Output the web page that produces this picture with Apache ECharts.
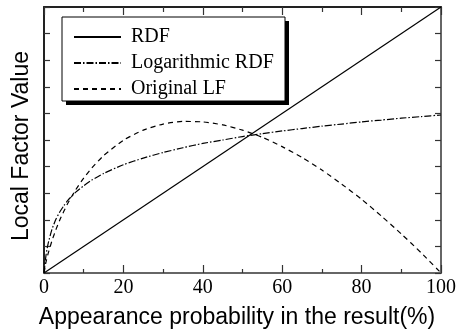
<!DOCTYPE html>
<html>
<head>
<meta charset="utf-8">
<script src="https://cdn.jsdelivr.net/npm/echarts@6/dist/echarts.min.js"></script>
<style>html,body{margin:0;padding:0;background:#fff}#c{width:467px;height:334px}</style>
</head>
<body>
<div id="c"></div>
<script>
// probability (%) sample points
var xPts = [0, 0.5, 1, 2, 3, 4, 5, 6, 8, 10, 12, 15, 20, 25, 30, 35, 40, 45, 50, 55, 60, 65, 70, 75, 80, 85, 90, 95, 100];
// Logarithmic RDF
var logRdf = [0, 0.066, 0.108, 0.164, 0.202, 0.230, 0.253, 0.273, 0.304, 0.328, 0.349, 0.374, 0.407, 0.432, 0.453, 0.471, 0.487, 0.500, 0.513, 0.524, 0.534, 0.543, 0.552, 0.560, 0.568, 0.575, 0.582, 0.588, 0.594];
// Original LF
var origLf = [0, 0.041, 0.071, 0.121, 0.163, 0.200, 0.232, 0.262, 0.313, 0.357, 0.394, 0.441, 0.499, 0.537, 0.560, 0.570, 0.568, 0.557, 0.537, 0.510, 0.475, 0.434, 0.387, 0.334, 0.277, 0.214, 0.147, 0.076, 0];
// RDF straight line
var rdfX = [0, 100];
var rdfY = [0, 1];
var xTicks = [0, 20, 40, 60, 80, 100];
var seriesNames = ['RDF', 'Logarithmic RDF', 'Original LF'];

function pairs(xs, ys) { return xs.map(function (x, i) { return [x, ys[i]]; }); }

var chart = echarts.init(document.getElementById('c'), null, { renderer: 'canvas' });
var G = { left: 44, right: 26, top: 7, bottom: 61 };
var serif = 'Liberation Serif';

function tick(len) { return { show: true, inside: true, length: len, lineStyle: { color: '#333', width: 1.2 } }; }
function minor(len) { return { show: true, splitNumber: 2, length: len, lineStyle: { color: '#333', width: 1.2 } }; }

chart.setOption({
  animation: false,
  backgroundColor: '#fff',
  grid: G,
  legend: {
    orient: 'vertical',
    left: 68, top: 22,
    itemWidth: 47, itemHeight: 14, itemGap: 6,
    data: seriesNames,
    itemStyle: { color: 'rgba(0,0,0,0)', borderWidth: 0, opacity: 0 },
    textStyle: { fontFamily: serif, fontSize: 20, color: '#000', padding: [0, 0, 0, 5] },
    z: 10
  },
  graphic: [
    { type: 'rect', shape: { x: 66, y: 21, width: 223, height: 84 }, style: { fill: '#000' }, z: 1 },
    { type: 'rect', shape: { x: 62, y: 17, width: 223, height: 84 }, style: { fill: '#fff', stroke: '#000', lineWidth: 1 }, z: 2 },
    { type: 'text', x: 237, y: 318, style: { text: 'Appearance probability in the result(%)', font: '23px "Liberation Sans"', fill: '#000', textAlign: 'center', textVerticalAlign: 'middle' }, z: 5 },
    { type: 'text', x: 22, y: 146, rotation: Math.PI / 2, style: { text: 'Local Factor Value', font: '23px "Liberation Sans"', fill: '#000', textAlign: 'center', textVerticalAlign: 'middle' }, z: 5 }
  ],
  xAxis: [
    {
      type: 'value', min: 0, max: 100, interval: 20, position: 'bottom',
      axisLine: { show: true, onZero: false, lineStyle: { color: '#666', width: 2 } },
      axisTick: tick(8), minorTick: minor(4),
      axisLabel: { fontFamily: serif, fontSize: 20, color: '#000', margin: 5,
        formatter: function (v) { return xTicks.indexOf(v) >= 0 ? String(v) : ''; } },
      splitLine: { show: false }
    },
    {
      type: 'value', min: 0, max: 100, interval: 20, position: 'top',
      axisLine: { show: true, onZero: false, lineStyle: { color: '#222', width: 2 } },
      axisTick: tick(8), minorTick: minor(5),
      axisLabel: { show: false }, splitLine: { show: false }
    }
  ],
  yAxis: [
    {
      type: 'value', min: 0, max: 1, interval: 0.1, position: 'left',
      axisLine: { show: true, onZero: false, lineStyle: { color: '#222', width: 2 } },
      axisTick: tick(6),
      axisLabel: { show: false }, splitLine: { show: false }
    },
    {
      type: 'value', min: 0, max: 1, interval: 0.1, position: 'right',
      axisLine: { show: true, onZero: false, lineStyle: { color: '#666', width: 2 } },
      axisTick: tick(6),
      axisLabel: { show: false }, splitLine: { show: false }
    }
  ],
  series: [
    { name: seriesNames[0], type: 'line', data: pairs(rdfX, rdfY), symbol: 'none', showSymbol: false,
      lineStyle: { color: '#000', width: 1.2, type: 'solid' }, itemStyle: { color: '#000' }, z: 3 },
    { name: seriesNames[1], type: 'line', data: pairs(xPts, logRdf), symbol: 'none', showSymbol: false, smooth: 0.2,
      lineStyle: { color: '#000', width: 1.2, type: [7, 2, 1.5, 2] }, itemStyle: { color: '#000' }, z: 3 },
    { name: seriesNames[2], type: 'line', data: pairs(xPts, origLf), symbol: 'none', showSymbol: false, smooth: 0.2,
      lineStyle: { color: '#000', width: 1.2, type: [5, 4] }, itemStyle: { color: '#000' }, z: 3 }
  ]
});
</script>
</body>
</html>
